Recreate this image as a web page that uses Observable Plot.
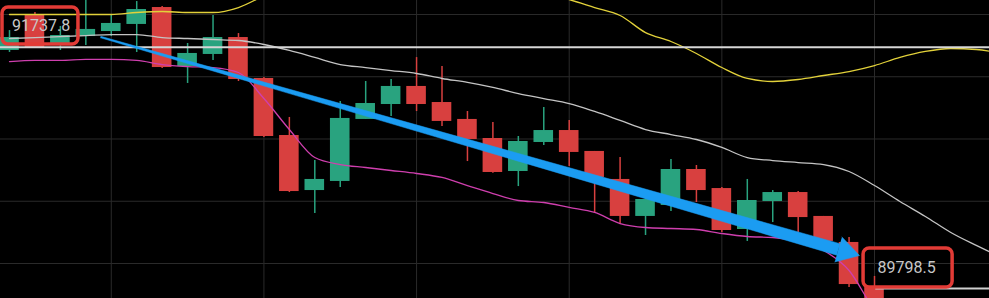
<!DOCTYPE html>
<html><head><meta charset="utf-8">
<script src="https://cdn.jsdelivr.net/npm/d3@7"></script>
<script src="https://cdn.jsdelivr.net/npm/@observablehq/plot@0.6"></script>
<style>html,body{margin:0;padding:0;background:#000;overflow:hidden}#chart svg{display:block}</style>
</head><body><div id="chart"></div>
<script>
// Candle OHLC values (one per bar, oldest first)
const open  = [91711, 91992, 91767, 91823, 91863, 91920, 92056, 91582, 91679, 91815, 91486, 91028, 90586, 90659, 91157, 91277, 91422, 91293, 91157, 91004, 90739, 90972, 91068, 90900, 90675, 90378, 90466, 90755, 90602, 90273, 90498, 90570, 90378, 90169, 89807];
const high  = [91871, 92016, 91904, 92120, 91992, 92104, 92064, 91767, 91992, 91847, 91494, 91173, 90827, 91301, 91462, 91478, 91654, 91582, 91221, 91132, 91020, 91253, 91149, 90900, 90851, 90530, 90835, 90787, 90610, 90675, 90586, 90578, 90378, 90209, 89896];
const low   = [91695, 91727, 91711, 91751, 91823, 91695, 91566, 91446, 91631, 91462, 91012, 90570, 90402, 90610, 91157, 91181, 91221, 91100, 90819, 90725, 90618, 90948, 90779, 90402, 90321, 90225, 90418, 90490, 90249, 90177, 90329, 90249, 90177, 89807, 89622];
const close = [91815, 91735, 91831, 91880, 91928, 92040, 91574, 91687, 91815, 91478, 91020, 90578, 90675, 91165, 91285, 91422, 91277, 91141, 90996, 90731, 90980, 91068, 90892, 90691, 90378, 90514, 90755, 90586, 90265, 90506, 90570, 90369, 90177, 89831, 89622];

// Indicator lines (one value per bar index, extending past the visible candles)
const maYellow  = [92000, 92000, 92000, 92000, 92000, 92016, 92024, 92016, 92016, 92056, 92153, 92273, 92394, 92474, 92514, 92514, 92474, 92434, 92369, 92313, 92249, 92177, 92120, 92056, 91992, 91855, 91783, 91687, 91574, 91486, 91462, 91478, 91510, 91542, 91590, 91655, 91703, 91727, 91719, 91687];
const bandUpper = [91807, 91815, 91823, 91831, 91839, 91839, 91815, 91807, 91799, 91791, 91759, 91711, 91655, 91598, 91574, 91550, 91526, 91486, 91454, 91414, 91365, 91325, 91285, 91221, 91149, 91076, 91036, 90996, 90932, 90851, 90827, 90811, 90795, 90739, 90626, 90498, 90378, 90249, 90145, 90048];
const bandLower = [91622, 91631, 91631, 91639, 91639, 91631, 91598, 91582, 91574, 91534, 91325, 91076, 90851, 90795, 90771, 90747, 90723, 90691, 90626, 90562, 90506, 90490, 90450, 90410, 90321, 90289, 90281, 90273, 90241, 90217, 90209, 90177, 90104, 89944, 89622, 89382];

// Grid and annotations
const gridPrices = [90000, 90500, 91000, 91500, 92000];
const gridIndex = [4, 10, 16, 22, 28, 34];
const priceLevels = [91737.8, 89798.5];
const labelTexts = ["91737.8", "89798.5"];
const labelPos = [{i: 0.1, p: 91908}, {i: 34.12, p: 89968}];
const labelBoxes = [{i1: -0.275, i2: 2.71, p1: 91759, p2: 92056}, {i1: 33.57, i2: 37.07, p1: 89807, p2: 90120}];
const arrowStart = {i: 3.58, p: 91819};
const arrowTip = {i: 33.41, p: 90064};

const W = 989, H = 298;
const xDomain = [-0.354, 38.52];
const yDomain = [89718.9, 92112.4];
const GREEN = "#29a37f", RED = "#d8403f", BLUE = "#1b9cf2";

const candles = open.map((o, k) => ({i: k, o, h: high[k], l: low[k], c: close[k]}));
const ups = candles.filter(d => d.c >= d.o);
const downs = candles.filter(d => d.c < d.o);
const hw = 0.385;

// Arrow geometry (in pixel-proportional space, converted back to data units)
const sx = W / (xDomain[1] - xDomain[0]);
const sy = H / (yDomain[1] - yDomain[0]);
const toPx = d => [d.i * sx, -d.p * sy];
const fromPx = ([X, Y]) => ({i: X / sx, p: -Y / sy});
const S = toPx(arrowStart), T = toPx(arrowTip);
const len = Math.hypot(T[0] - S[0], T[1] - S[1]);
const u = [(T[0] - S[0]) / len, (T[1] - S[1]) / len];
const n = [-u[1], u[0]];
const headLen = 22, headHalf = 13, w0 = 1.5, w1 = 12;
const B = [T[0] - u[0] * headLen, T[1] - u[1] * headLen];
const off = (P, k) => [P[0] + n[0] * k, P[1] + n[1] * k];
const shaft = [off(S, w0 / 2), off(B, w1 / 2), off(B, -w1 / 2), off(S, -w0 / 2)].map(fromPx);
const head = [off(B, headHalf), T, off(B, -headHalf)].map(fromPx);

const idx = (d, k) => k;

const chart = Plot.plot({
  width: W, height: H,
  marginTop: 0, marginBottom: 0, marginLeft: 0, marginRight: 0,
  x: {domain: xDomain, axis: null},
  y: {domain: yDomain, axis: null},
  style: {background: "#000", overflow: "hidden"},
  marks: [
    Plot.ruleY(gridPrices, {stroke: "#2a2a2a", strokeWidth: 1}),
    Plot.ruleX(gridIndex, {stroke: "#2a2a2a", strokeWidth: 1}),
    Plot.ruleX(ups, {x: "i", y1: "l", y2: "h", stroke: GREEN, strokeWidth: 1.5}),
    Plot.ruleX(downs, {x: "i", y1: "l", y2: "h", stroke: RED, strokeWidth: 1.5}),
    Plot.rect(ups, {x1: d => d.i - hw, x2: d => d.i + hw, y1: "o", y2: "c", fill: GREEN}),
    Plot.rect(downs, {x1: d => d.i - hw, x2: d => d.i + hw, y1: "c", y2: "o", fill: RED}),
    Plot.line(bandUpper, {x: idx, y: d => d, stroke: "#c4c4c4", strokeWidth: 1.3, curve: "monotone-x", clip: true}),
    Plot.line(bandLower, {x: idx, y: d => d, stroke: "#cf3fae", strokeWidth: 1.3, curve: "monotone-x", clip: true}),
    Plot.line(maYellow, {x: idx, y: d => d, stroke: "#e2d13a", strokeWidth: 1.3, curve: "monotone-x", clip: true}),
    Plot.ruleY([priceLevels[0]], {stroke: "#d6d6d6", strokeWidth: 2}),
    Plot.ruleY([{p: priceLevels[1], a: 34.05, b: 39}], {y: "p", x1: "a", x2: "b", stroke: "#d0d0d0", strokeWidth: 2, clip: true}),
    Plot.line(shaft, {x: "i", y: "p", fill: BLUE, stroke: BLUE, strokeWidth: 0.5, z: null}),
    Plot.line(head, {x: "i", y: "p", fill: BLUE, stroke: BLUE, strokeWidth: 0.5, z: null}),
    Plot.rect(labelBoxes, {x1: "i1", x2: "i2", y1: "p1", y2: "p2", fill: "none", stroke: "#e23b36", strokeWidth: 3.5, rx: 6}),
    Plot.text(labelPos, {x: "i", y: "p", text: (d, k) => labelTexts[k], fill: "#c8c8c8", fontSize: 16, textAnchor: "start", fontFamily: "Roboto, 'Liberation Sans', sans-serif"})
  ]
});
document.getElementById("chart").appendChild(chart);
</script>
</body></html>
